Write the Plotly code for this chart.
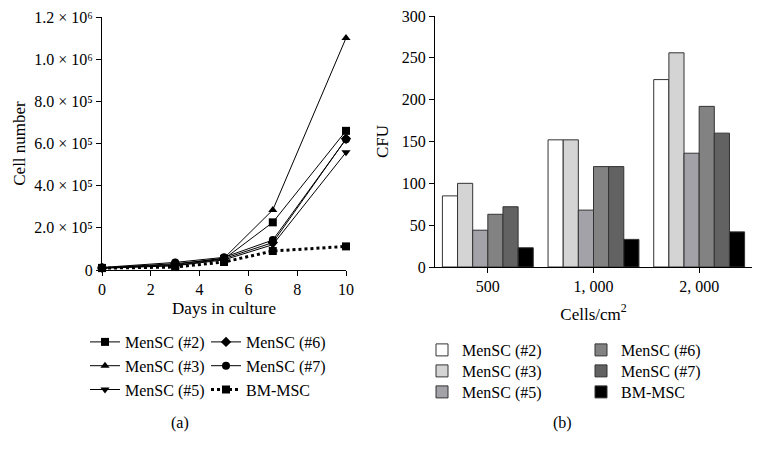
import plotly.graph_objects as go

days = [0, 3, 5, 7, 10]
growth_names = ["MenSC (#2)", "MenSC (#3)", "MenSC (#5)", "MenSC (#6)", "MenSC (#7)", "BM-MSC"]
growth_2 = [10000, 22000, 52000, 226000, 660000]
growth_3 = [10000, 26000, 56000, 285000, 1100000]
growth_5 = [8000, 20000, 48000, 120000, 558000]
growth_6 = [10000, 30000, 54000, 130000, 622000]
growth_7 = [12000, 36000, 60000, 142000, 620000]
growth_bm = [9000, 14000, 38000, 90000, 112000]

densities = ["500", "1, 000", "2, 000"]
cfu_names = ["MenSC (#2)", "MenSC (#3)", "MenSC (#5)", "MenSC (#6)", "MenSC (#7)", "BM-MSC"]
cfu_2 = [85, 152, 224]
cfu_3 = [100, 152, 256]
cfu_5 = [44, 68, 136]
cfu_6 = [63, 120, 192]
cfu_7 = [72, 120, 160]
cfu_bm = [23, 33, 42]

y_tickvals = [0, 200000, 400000, 600000, 800000, 1000000, 1200000]
y_ticktext = ["0", "2.0 × 10⁵", "4.0 × 10⁵", "6.0 × 10⁵",
              "8.0 × 10⁵", "1.0 × 10⁶", "1.2 × 10⁶"]
cfu_ticks = [0, 50, 100, 150, 200, 250, 300]

FONT = "Liberation Serif"
W, H = 756, 447   # page has an 8px body margin
OFF = 8


def px(xp):
    return (xp - OFF) / W


def py(yp):
    return 1 - (yp - OFF) / H


fig = go.Figure()

growth_series = [growth_2, growth_3, growth_5, growth_6, growth_7, growth_bm]
symbols = ["square", "triangle-up", "triangle-down", "diamond", "circle", "square"]
legends_a = ["legend", "legend", "legend", "legend2", "legend2", "legend2"]
for name, vals, sym, lg in zip(growth_names, growth_series, symbols, legends_a):
    is_bm = name == "BM-MSC"
    fig.add_trace(go.Scatter(
        x=days, y=vals, name=name, mode="lines+markers",
        line=dict(color="black", width=3 if is_bm else 1, dash="dot" if is_bm else "solid"),
        marker=dict(symbol=sym, size=8, color="black"),
        cliponaxis=False, xaxis="x", yaxis="y", legend=lg,
    ))

cfu_series = [cfu_2, cfu_3, cfu_5, cfu_6, cfu_7, cfu_bm]
colors = ["#ffffff", "#d4d4d4", "#a2a2a8", "#828282", "#626262", "#000000"]
legends_b = ["legend3", "legend4", "legend5", "legend6", "legend7", "legend8"]
for name, vals, col, lg in zip(cfu_names, cfu_series, colors, legends_b):
    fig.add_trace(go.Bar(
        x=densities, y=vals, name=name,
        marker=dict(color=col, line=dict(color="#333333", width=1)),
        xaxis="x2", yaxis="y2", legend=lg,
    ))

axis_common = dict(showline=True, linecolor="black", linewidth=1, showgrid=False,
                   zeroline=False, ticks="outside", ticklen=5, tickcolor="black",
                   ticklabeloverflow="allow",
                   tickfont=dict(family=FONT, size=16, color="black"), automargin=False)

leg_common = dict(bgcolor="rgba(0,0,0,0)", font=dict(family=FONT, size=16, color="black"),
                  itemwidth=30, xanchor="left", yanchor="top", tracegroupgap=0,
                  orientation="v", itemclick=False, itemdoubleclick=False)

# right legend: one entry per legend box so rows can sit 21px apart
right_cols = [422, 422, 422, 581, 581, 581]
right_rows = [350, 371, 392, 350, 371, 392]
right_legends = {}
for lg, xc, yc in zip(legends_b, right_cols, right_rows):
    right_legends[lg] = dict(x=px(xc), y=py(yc - 17), **leg_common)

fig.update_layout(
    width=W, height=H,
    margin=dict(l=0, r=0, t=0, b=0),
    paper_bgcolor="white", plot_bgcolor="white",
    font=dict(family=FONT, color="black"),
    barmode="group", bargap=0.14, bargroupgap=0,
    xaxis=dict(domain=[px(102), px(346)], range=[0, 10], tickvals=[0, 2, 4, 6, 8, 10],
               title=dict(text="Days in culture", font=dict(family=FONT, size=17), standoff=4),
               anchor="y", **axis_common),
    yaxis=dict(domain=[py(270), py(17)], range=[0, 1200000], tickvals=y_tickvals, ticktext=y_ticktext,
               title=dict(text="Cell number", font=dict(family=FONT, size=17), standoff=4),
               anchor="x", **axis_common),
    xaxis2=dict(domain=[px(435), px(752)], range=[-0.5, 2.5], type="category",
                title=dict(text="Cells/cm<sup>2</sup>", font=dict(family=FONT, size=17), standoff=13),
                anchor="y2", **axis_common),
    yaxis2=dict(domain=[py(267), py(16)], range=[0, 300], tickvals=cfu_ticks,
                title=dict(text="CFU", font=dict(family=FONT, size=17), standoff=8),
                anchor="x2", **axis_common),
    legend=dict(x=px(85), y=py(325), **leg_common),
    legend2=dict(x=px(206), y=py(325), **leg_common),
    **right_legends,
    annotations=[
        dict(text="(a)", x=px(180), y=py(423), xref="paper", yref="paper", xanchor="center",
             yanchor="middle", showarrow=False, font=dict(family=FONT, size=16, color="black")),
        dict(text="(b)", x=px(562), y=py(423), xref="paper", yref="paper", xanchor="center",
             yanchor="middle", showarrow=False, font=dict(family=FONT, size=16, color="black")),
    ],
)

fig.write_html("out.html")
